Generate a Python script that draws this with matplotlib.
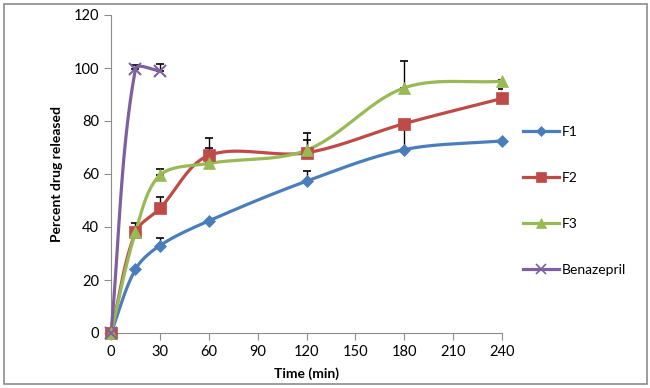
import numpy as np
import matplotlib.pyplot as plt
from matplotlib.patches import Rectangle

plt.rcParams['font.family'] = ['Lato', 'DejaVu Sans']

time = [0, 15, 30, 60, 120, 180, 240]
f1 = [0, 24, 33, 42.3, 57.3, 69.2, 72.5]
f2 = [0, 38, 47, 67, 68, 79, 88.5]
f3 = [0, 38, 59.5, 64, 69, 92.5, 95]
f1_err = [0, 0, 3, 0, 4, 9, 0]
f2_err = [0, 3.5, 4.5, 6.5, 7.5, 0, 3.5]
f3_err = [0, 0, 2.5, 6, 4, 10, 0.5]
benz_time = [0, 15, 30]
benz = [0, 99.5, 99]
benz_err = [0, 1.8, 2.6]

xticks = [0, 30, 60, 90, 120, 150, 180, 210, 240]
yticks = [0, 20, 40, 60, 80, 100, 120]


def smooth(x, y, sx, sy, n=40):
    # excel-like bezier smoothing in screen-scaled coords,
    # tangents scaled by neighbouring segment lengths
    p = np.column_stack([np.asarray(x, float) / sx, np.asarray(y, float) / sy])
    m = len(p)
    d = np.r_[np.hypot(*np.diff(p, axis=0).T)]
    out = [p[0]]
    for i in range(m - 1):
        if i > 0:
            c1 = p[i] + (p[i + 1] - p[i - 1]) * d[i] / (d[i - 1] + d[i]) / 3
        else:
            c1 = p[i] + (p[i + 1] - p[i]) / 3
        if i + 2 < m:
            c2 = p[i + 1] - (p[i + 2] - p[i]) * d[i] / (d[i] + d[i + 1]) / 3
        else:
            c2 = p[i + 1] - (p[i + 1] - p[i]) / 3
        t = np.linspace(0, 1, n)[1:, None]
        seg = ((1 - t) ** 3 * p[i] + 3 * (1 - t) ** 2 * t * c1
               + 3 * (1 - t) * t ** 2 * c2 + t ** 3 * p[i + 1])
        out.extend(seg)
    out = np.array(out)
    return out[:, 0] * sx, out[:, 1] * sy


fig = plt.figure(figsize=(6.5, 3.88), dpi=100)
ax = fig.add_axes([111 / 650, 1 - 333 / 388, 391 / 650, 318 / 388])
fig.patches.append(Rectangle((4 / 650, 4 / 388), 643 / 650, 380 / 388,
                             transform=fig.transFigure, fill=False,
                             edgecolor='#8c8c8c', lw=1.2))

series = [
    ('F1', time, f1, f1_err, '#4A7EBB', 'D', 6),
    ('F2', time, f2, f2_err, '#BE4B48', 's', 8),
    ('F3', time, f3, f3_err, '#98B954', '^', 8.5),
    ('Benazepril', benz_time, benz, benz_err, '#7D60A0', 'x', 8),
]

sx, sy = 240 / 391, 120 / 318
for name, x, y, err, col, mk, ms in series:
    ax.errorbar(x, y, yerr=[np.zeros(len(err)), err], fmt='none',
                ecolor='black', elinewidth=1, capsize=3, capthick=1.2,
                zorder=2)
    xs, ys = smooth(x, y, sx, sy)
    ax.plot(xs, ys, color=col, lw=2.3, zorder=3, clip_on=False)
    ax.plot(x, y, linestyle='none', marker=mk, color=col, ms=ms,
            mew=1.5 if mk == 'x' else 0.5, zorder=4, clip_on=False)
    ax.plot([], [], color=col, lw=2.3, marker=mk, ms=ms * 0.85, label=name,
            mew=1.2 if mk == 'x' else 0.5)

ax.set_xlim(0, 240)
ax.set_ylim(0, 120)
ax.set_xticks(xticks)
ax.set_yticks(yticks)
ax.tick_params(labelsize=10.5, color='#8c8c8c', length=5, direction='out')
for s in ['top', 'right']:
    ax.spines[s].set_visible(False)
for s in ['left', 'bottom']:
    ax.spines[s].set_color('#8c8c8c')
ax.set_xlabel('Time (min)', fontsize=10, fontweight='bold', labelpad=6)
ax.set_ylabel('Percent drug released', fontsize=10, fontweight='bold', labelpad=8)

fig.legend(loc='center left', bbox_to_anchor=(523 / 650, 1 - 201 / 388),
           frameon=False, fontsize=10, handlelength=2.6, handletextpad=0.2,
           labelspacing=2.45, borderpad=0, borderaxespad=0)

fig.savefig('out.png', dpi=100)
